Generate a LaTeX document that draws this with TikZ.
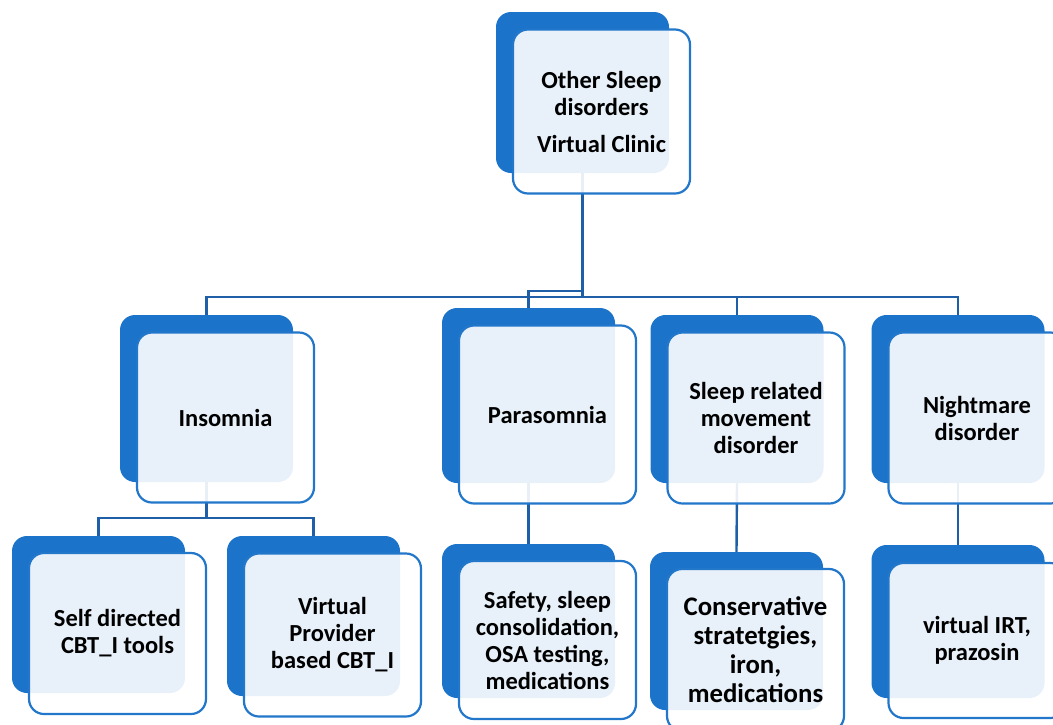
\documentclass[tikz,border=0pt]{standalone}
\usepackage{fontspec}
\setmainfont{Carlito}
\usetikzlibrary{calc}
\definecolor{vc-blue}{HTML}{1B74C9}
\definecolor{vc-line}{HTML}{1E5FA8}
\definecolor{vc-edge}{HTML}{2277CB}

\begin{document}
\begin{tikzpicture}[x=1pt, y=-1pt,
  backbox/.style={fill=vc-blue, rounded corners=15pt, minimum width=173pt, inner sep=0pt},
  frontbox/.style={draw=vc-edge, line width=2.2pt, fill=white, fill opacity=0.9, text opacity=1,
    rounded corners=15pt, minimum width=177pt, inner sep=0pt, align=center,
    font=\bfseries\fontsize{24.5}{27}\selectfont},
  link/.style={draw=vc-line, line width=2.4pt}]
  \useasboundingbox (0,0) rectangle (1053,724);
  \clip (0,0) rectangle (1053,724);
  % back plates
  \node[backbox, minimum height=161pt] (topb) at (582.5,92.5) {};
  \node[backbox, minimum height=167pt] (insb) at (206.5,398.5) {};
  \node[backbox, minimum height=175pt] (parab) at (528.5,395.5) {};
  \node[backbox, minimum height=168pt] (slpb) at (737,399) {};
  \node[backbox, minimum height=168pt] (nightb) at (958,399) {};
  \node[backbox, minimum height=157pt] (selfb) at (98.5,614.5) {};
  \node[backbox, minimum height=160pt] (vprovb) at (313.5,616) {};
  \node[backbox, minimum height=154pt] (safeb) at (528.5,621) {};
  \node[backbox, minimum height=158pt] (consb) at (736.5,631) {};
  \node[backbox, minimum height=153pt] (irtb) at (958,621.5) {};
  % connectors
  \coordinate (bus) at (0,297);
  \coordinate (jog) at (0,291);
  \coordinate (insbus) at (0,518);
  \draw[link] (topb.south) -- (topb.south |- bus);
  \draw[link] (insb.north) |- (nightb.north |- bus) -- (nightb.north);
  \draw[link] (slpb.north) -- (slpb.north |- bus);
  \draw[link] (parab.north) |- (topb.south |- jog);
  \draw[link] (insb.south) -- (insb.south |- insbus);
  \draw[link] (selfb.north) |- (vprovb.north |- insbus) -- (vprovb.north);
  \draw[link] (parab.south) -- (safeb.north);
  \draw[link] (slpb.south) -- (consb.north);
  \draw[link] (nightb.south) -- (irtb.north);
  % front cards
  \node[frontbox, minimum height=164pt] (top) at ($(topb)+(19,19)$) {Other Sleep\\disorders\\[10pt]Virtual Clinic};
  \node[frontbox, minimum height=170pt] (ins) at ($(insb)+(19,19)$) {Insomnia};
  \node[frontbox, minimum height=178pt] (para) at ($(parab)+(19,19)$) {Parasomnia};
  \node[frontbox, minimum height=171pt] (slp) at ($(slpb)+(19,19)$) {Sleep related\\movement\\disorder};
  \node[frontbox, minimum height=171pt] (night) at ($(nightb)+(19,19)$) {Nightmare\\disorder};
  \node[frontbox, minimum height=161pt] (self) at ($(selfb)+(19,19)$) {Self directed\\CBT\_I tools};
  \node[frontbox, minimum height=163pt] (vprov) at ($(vprovb)+(19,19)$) {Virtual\\Provider\\based CBT\_I};
  \node[frontbox, minimum height=158pt] (safe) at ($(safeb)+(19,19)$) {Safety, sleep\\consolidation,\\OSA testing,\\medications};
  \node[frontbox, minimum height=162pt, font=\bfseries\fontsize{26.8}{29}\selectfont] (cons) at ($(consb)+(19,19)$) {Conservative\\stratetgies,\\iron,\\medications};
  \node[frontbox, minimum height=155pt] (irt) at ($(irtb)+(19,19)$) {virtual IRT,\\prazosin};
\end{tikzpicture}
\end{document}
